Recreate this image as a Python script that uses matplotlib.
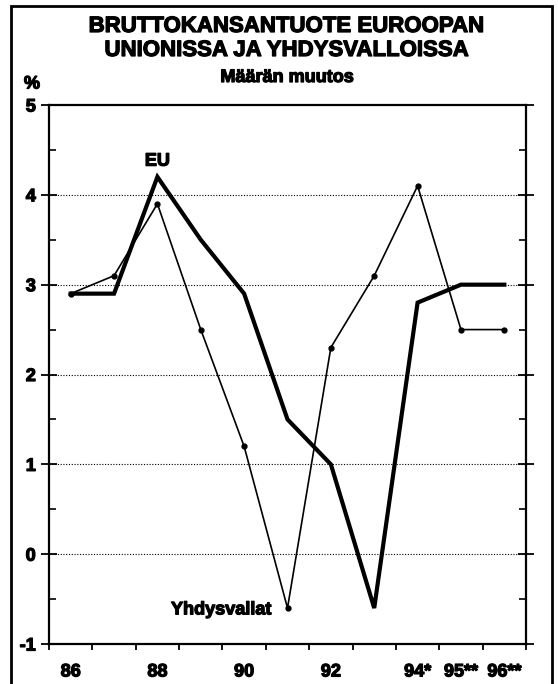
import matplotlib.pyplot as plt
from matplotlib.patches import Rectangle
import matplotlib.patheffects as pe
import numpy as np

plt.rcParams['font.family'] = ['Liberation Sans', 'DejaVu Sans']
plt.rcParams['font.weight'] = 'bold'

# vuodet ja tikkien tekstit
vuodet = ['86', '87', '88', '89', '90', '91', '92', '93', '94*', '95**', '96**']
nakyvat = ['86', '88', '90', '92', '94*', '95**', '96**']
# BKT:n maaran muutos, %
eu = [2.9, 2.9, 4.2, 3.5, 2.9, 1.5, 1.0, -0.6, 2.8, 3.0, 3.0]
usa = [2.9, 3.1, 3.9, 2.5, 1.2, -0.6, 2.3, 3.1, 4.1, 2.5, 2.5]

x = np.arange(len(vuodet))
paksu = [pe.withStroke(linewidth=0.9, foreground='black')]

fig = plt.figure(figsize=(5.58, 6.84), dpi=100)
ax = fig.add_axes([49/558, 1-644/684, 477/558, 539/684])

for y in range(0, 5):
    ax.axhline(y, color='black', lw=0.8, ls=(0, (1, 1.5)), zorder=1)

ax.plot(x, usa, color='black', lw=1.2, marker='o', ms=3.5, zorder=3)
ax.plot(x, eu, color='black', lw=3.0, solid_joinstyle='miter', zorder=4)

ax.set_xlim(-0.5, len(vuodet)-0.5)
ax.set_ylim(-1, 5)

# x-akseli: tekstit keskella, tikit valeissa
ax.set_xticks([vuodet.index(v) for v in nakyvat])
ax.set_xticklabels(nakyvat, fontsize=13, fontweight='bold')
ax.set_xticks(np.arange(-0.5, len(vuodet)), minor=True)
ax.tick_params(axis='x', which='major', length=0, pad=14)
ax.tick_params(axis='x', which='minor', length=4, width=1.3, direction='out')

ax.set_yticks(range(-1, 6))
ax.set_yticklabels([str(v) for v in range(-1, 6)], fontsize=13, fontweight='bold')
ax.set_yticks(np.arange(-0.5, 5, 1.0), minor=True)
ax.tick_params(axis='y', which='major', length=11, width=1.3, direction='inout', pad=4)
ax.tick_params(axis='y', which='minor', length=5, width=1.2, direction='in')
ax.tick_params(axis='y', which='both', right=True)

for lbl in ax.get_xticklabels() + ax.get_yticklabels():
    lbl.set_path_effects(paksu)

for s in ax.spines.values():
    s.set_linewidth(1.6)

ax.text(4.62, -0.62, 'Yhdysvallat', fontsize=13, fontweight='bold',
        ha='right', va='center', path_effects=paksu)
ax.text(2, 4.28, 'EU', fontsize=13, fontweight='bold', ha='center', va='bottom',
        path_effects=paksu)

fig.text(287/558, 1-32/684, 'BRUTTOKANSANTUOTE EUROOPAN', fontsize=16,
         fontweight='bold', ha='center', va='baseline', path_effects=paksu)
fig.text(287/558, 1-56/684, 'UNIONISSA JA YHDYSVALLOISSA', fontsize=16,
         fontweight='bold', ha='center', va='baseline', path_effects=paksu)
fig.text(287/558, 1-82/684, 'Määrän muutos', fontsize=13,
         fontweight='bold', ha='center', va='baseline', path_effects=paksu)
fig.text(32/558, 1-84/684, '%', fontsize=13, fontweight='bold',
         ha='center', va='center', path_effects=paksu)

fig.patches.append(Rectangle((11/558, -0.01), 541/558, 1-6/684+0.01,
                             transform=fig.transFigure, fill=False,
                             lw=2.0, edgecolor='black'))

fig.savefig('out.png', dpi=100)
